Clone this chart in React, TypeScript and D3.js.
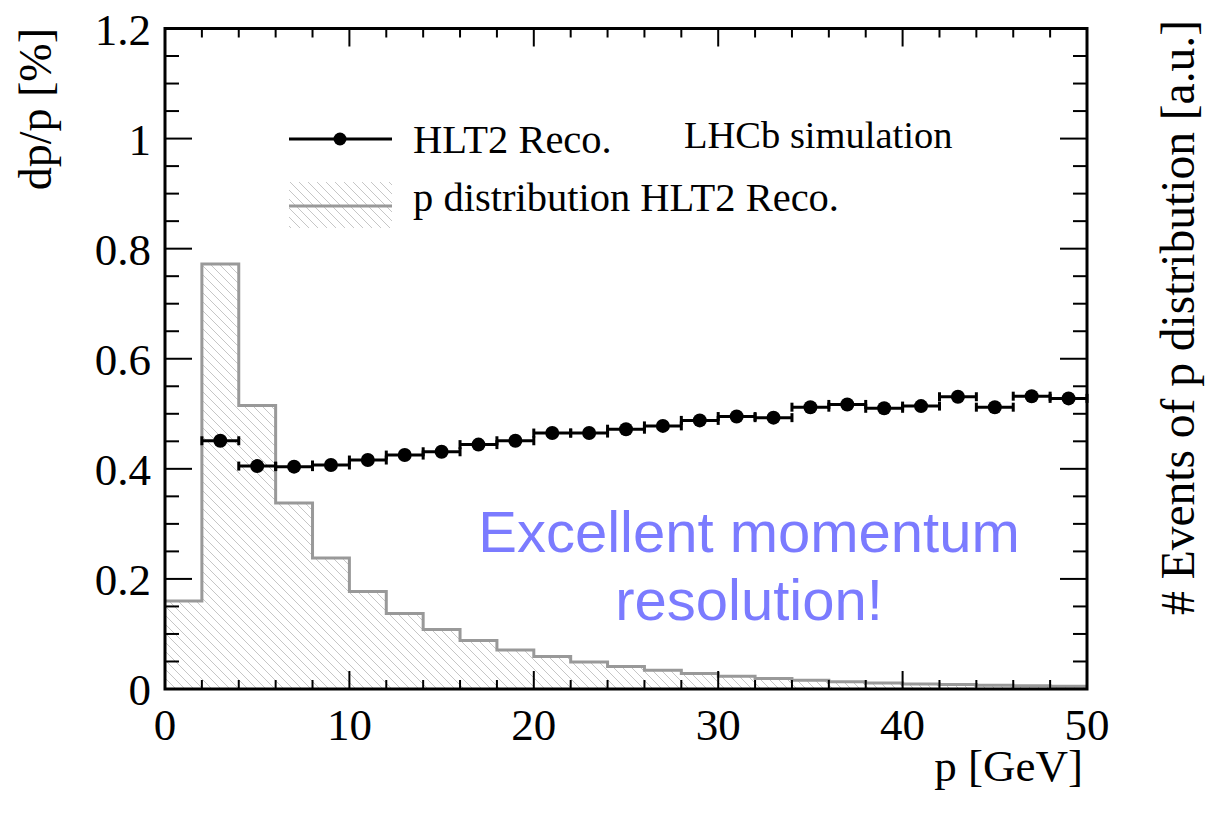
import React from "react";
import * as d3 from "d3";

// Momentum distribution histogram (2 GeV bins, lower edges)
const binEdges = [0, 2, 4, 6, 8, 10, 12, 14, 16, 18, 20, 22, 24, 26, 28, 30, 32, 34, 36, 38, 40, 42, 44, 46, 48];
const pDistribution = [
  0.16, 0.772, 0.515, 0.338, 0.238, 0.177, 0.137, 0.108, 0.088, 0.071, 0.059, 0.049, 0.041,
  0.034, 0.028, 0.023, 0.019, 0.016, 0.013, 0.011, 0.009, 0.008, 0.007, 0.006, 0.005,
];

// Momentum resolution points (bin centres, dp/p in %)
const resCentres = [3, 5, 7, 9, 11, 13, 15, 17, 19, 21, 23, 25, 27, 29, 31, 33, 35, 37, 39, 41, 43, 45, 47, 49];
const resValues = [
  0.451, 0.405, 0.404, 0.407, 0.416, 0.425, 0.431, 0.444, 0.451, 0.465, 0.465, 0.472,
  0.478, 0.488, 0.495, 0.493, 0.512, 0.517, 0.510, 0.514, 0.531, 0.512, 0.532, 0.528,
];
const binHalfWidth = 1;

const xMajorTicks = [0, 10, 20, 30, 40, 50];
const xTickLabels = ["0", "10", "20", "30", "40", "50"];
const yMajorTicks = [0, 0.2, 0.4, 0.6, 0.8, 1.0, 1.2];
const yTickLabels = ["0", "0.2", "0.4", "0.6", "0.8", "1", "1.2"];

const SERIF = "'Liberation Serif', 'Times New Roman', serif";
const SANS = "'Liberation Sans', Arial, sans-serif";

export default function App() {
  const W = 1221;
  const H = 820;
  const x = d3.scaleLinear().domain([0, 50]).range([165, 1087]);
  const y = d3.scaleLinear().domain([0, 1.2]).range([689, 28.5]);
  const [x0, x1] = x.range();
  const [y0, y1] = y.range();

  const histPts: [number, number][] = binEdges.map((e, i) => [e, pDistribution[i]]);
  histPts.push([50, pDistribution[pDistribution.length - 1]]);

  const outline = d3
    .line<[number, number]>()
    .x((d) => x(d[0]))
    .y((d) => y(d[1]))
    .curve(d3.curveStepAfter)(histPts) as string;
  const area = d3
    .area<[number, number]>()
    .x((d) => x(d[0]))
    .y0(y(0))
    .y1((d) => y(d[1]))
    .curve(d3.curveStepAfter)(histPts) as string;

  const xMinor = d3.range(0, 50.001, 2).filter((v) => v % 10 !== 0);
  const yMinor = d3.range(0, 1.2001, 0.05).filter((v) => Math.abs(v * 5 - Math.round(v * 5)) > 1e-6);

  const yMajLen = 27;
  const yMinLen = 14;
  const xMajLen = 18;
  const xMinLen = 9;

  const hs = 9;

  return (
    <svg
      width={W}
      height={H}
      style={{ position: "absolute", left: 0, top: 0, background: "#fff" }}
      fontFamily={SERIF}
    >
      <defs>
        <pattern id="hatch" patternUnits="userSpaceOnUse" width={hs} height={hs}>
          <path
            d={`M-1,-1 L${hs + 1},${hs + 1} M-1,${hs - 1} L1,${hs + 1} M${hs - 1},-1 L${hs + 1},1`}
            stroke="#c6c6c6"
            strokeWidth={1}
          />
        </pattern>
      </defs>
      <rect x={0} y={0} width={W} height={H} fill="#fff" />

      {/* momentum distribution */}
      <path d={area} fill="url(#hatch)" />
      <path d={outline} fill="none" stroke="#999" strokeWidth={3} />

      {/* ticks */}
      <g stroke="#000" strokeWidth={2}>
        {yMajorTicks.map((t) => (
          <g key={"ym" + t}>
            <line x1={x0} x2={x0 + yMajLen} y1={y(t)} y2={y(t)} />
            <line x1={x1} x2={x1 - yMajLen} y1={y(t)} y2={y(t)} />
          </g>
        ))}
        {yMinor.map((t) => (
          <g key={"yn" + t}>
            <line x1={x0} x2={x0 + yMinLen} y1={y(t)} y2={y(t)} />
            <line x1={x1} x2={x1 - yMinLen} y1={y(t)} y2={y(t)} />
          </g>
        ))}
        {xMajorTicks.map((t) => (
          <g key={"xm" + t}>
            <line x1={x(t)} x2={x(t)} y1={y0} y2={y0 - xMajLen} />
            <line x1={x(t)} x2={x(t)} y1={y1} y2={y1 + xMajLen} />
          </g>
        ))}
        {xMinor.map((t) => (
          <g key={"xn" + t}>
            <line x1={x(t)} x2={x(t)} y1={y0} y2={y0 - xMinLen} />
            <line x1={x(t)} x2={x(t)} y1={y1} y2={y1 + xMinLen} />
          </g>
        ))}
      </g>

      {/* frame */}
      <rect x={x0} y={y1} width={x1 - x0} height={y0 - y1} fill="none" stroke="#000" strokeWidth={3} />

      {/* resolution points */}
      <g stroke="#000" strokeWidth={3}>
        {resCentres.map((c, i) => {
          const yy = y(resValues[i]);
          const xa = x(c - binHalfWidth);
          const xb = x(c + binHalfWidth);
          return (
            <g key={"pt" + c}>
              <line x1={xa} x2={xb} y1={yy} y2={yy} />
              <line x1={xa} x2={xa} y1={yy - 4.5} y2={yy + 4.5} />
              <line x1={xb} x2={xb} y1={yy - 4.5} y2={yy + 4.5} />
              <circle cx={x(c)} cy={yy} r={7} fill="#000" stroke="none" />
            </g>
          );
        })}
      </g>

      {/* tick labels */}
      <g fontSize={45} fill="#000">
        {yMajorTicks.map((t, i) => (
          <text key={"yl" + t} x={151} y={y(t) + 16} textAnchor="end">
            {yTickLabels[i]}
          </text>
        ))}
        {xMajorTicks.map((t, i) => (
          <text key={"xl" + t} x={x(t)} y={740} textAnchor="middle">
            {xTickLabels[i]}
          </text>
        ))}
      </g>

      {/* axis titles */}
      <text x={1083} y={781} fontSize={45} textAnchor="end">
        p [GeV]
      </text>
      <text transform="translate(51,28) rotate(-90)" fontSize={46} textAnchor="end">
        dp/p [%]
      </text>
      <text transform="translate(1194,20) rotate(-90)" fontSize={47.5} textAnchor="end">
        # Events of p distribution [a.u.]
      </text>

      {/* legend */}
      <line x1={289} x2={392} y1={139} y2={139} stroke="#000" strokeWidth={3} />
      <circle cx={340} cy={139} r={6.5} fill="#000" />
      <text x={413} y={153} fontSize={40.5}>
        HLT2 Reco.
      </text>
      <rect x={289} y={182} width={103} height={46} fill="url(#hatch)" />
      <line x1={289} x2={392} y1={206} y2={206} stroke="#999" strokeWidth={3} />
      <text x={413} y={211} fontSize={40.5}>
        p distribution HLT2 Reco.
      </text>
      <text x={684} y={148} fontSize={38.5}>
        LHCb simulation
      </text>

      {/* annotation */}
      <g fontFamily={SANS} fontSize={58} fill="#7b7bff" textAnchor="middle">
        <text x={749} y={552}>
          Excellent momentum
        </text>
        <text x={749} y={620}>
          resolution!
        </text>
      </g>
    </svg>
  );
}
